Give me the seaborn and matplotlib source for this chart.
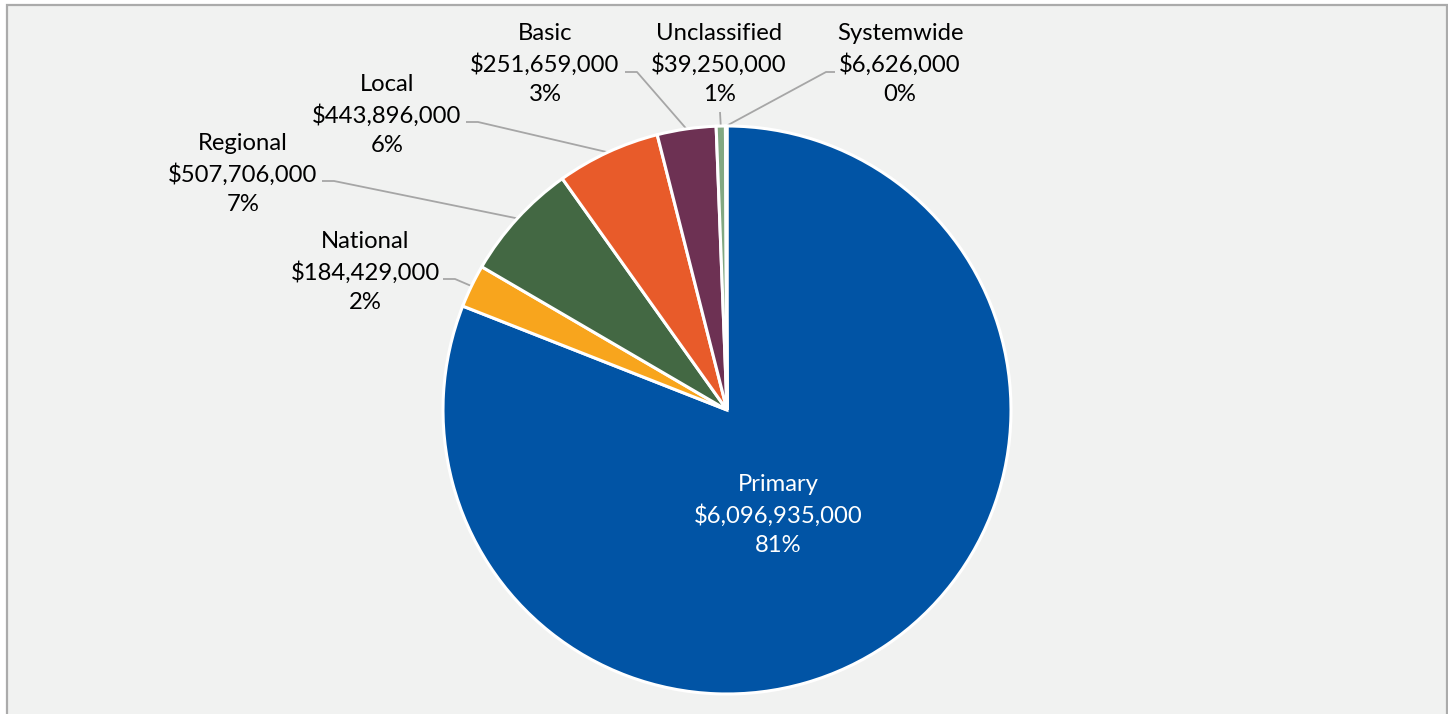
import matplotlib
matplotlib.use("Agg")
import matplotlib.pyplot as plt
import seaborn as sns
import numpy as np
from matplotlib.patches import Rectangle

# funding by category, in dollars
categories = ['Primary', 'National', 'Regional', 'Local', 'Basic', 'Unclassified', 'Systemwide']
amounts = [6096935000, 184429000, 507706000, 443896000, 251659000, 39250000, 6626000]
slice_colors = ['#0154A5', '#F8A51D', '#436843', '#E85B2A', '#6D3153', '#82A882', '#8FA6C8']

sns.set_theme(style='white')
plt.rcParams['font.family'] = ['Lato', 'DejaVu Sans']

W, H = 1448, 714
fig = plt.figure(figsize=(W / 100, H / 100), dpi=100, facecolor='white')
ax = fig.add_axes([0, 0, 1, 1])

def py(y):
  # pixel row (from top) -> data y (from bottom)
  return H - y

# panel background + grey border (bottom edge runs off the image)
ax.add_patch(Rectangle((7, -100), 1439.5, py(4.7) + 100, facecolor='#F1F2F1',
                       edgecolor='#ABABAB', lw=1.6, zorder=0))

center = (727, py(410))
radius = 284
wedges, _ = ax.pie(
  amounts,
  colors=slice_colors,
  startangle=90,
  counterclock=False,
  center=center,
  radius=radius,
  wedgeprops=dict(edgecolor='white', linewidth=2.2),
)
for w in wedges:
  w.set_zorder(2)

# label layout: text centre (x, y of middle line) and leader elbow / end, in pixels
label_xy = [(778, 515), (365, 272), (243, 174), (387, 115), (545, 64), (719, 64), (900, 64)]
elbows = [None, (455, 279), (334, 181), (478, 122), (637, 72), (720, 112), (826, 72)]
ends = [None, (443, 279), (322, 181), (466, 122), (625, 72), (720, 112), (835, 72)]

total = sum(amounts)
for i, (cat, val) in enumerate(zip(categories, amounts)):
  pct = round(100 * val / total)
  txt = f"{cat}\n${val:,.0f}\n{pct}%"
  x, y = label_xy[i]
  color = 'white' if i == 0 else 'black'
  ax.text(x, py(y), txt, ha='center', va='center', fontsize=17.2,
          color=color, linespacing=1.5, zorder=4)
  if elbows[i] is not None:
    w = wedges[i]
    mid = np.deg2rad((w.theta1 + w.theta2) / 2)
    sx = center[0] + radius * np.cos(mid)
    sy = center[1] + radius * np.sin(mid)
    ex, ey = elbows[i]
    fx, fy = ends[i]
    ax.plot([sx, ex, fx], [sy, py(ey), py(fy)], color='#A6A6A6', lw=1.3,
            solid_capstyle='butt', zorder=1)

ax.set_xlim(0, W)
ax.set_ylim(0, H)
ax.set_aspect('equal')
ax.axis('off')

fig.savefig('out.png', dpi=100, facecolor='white')
